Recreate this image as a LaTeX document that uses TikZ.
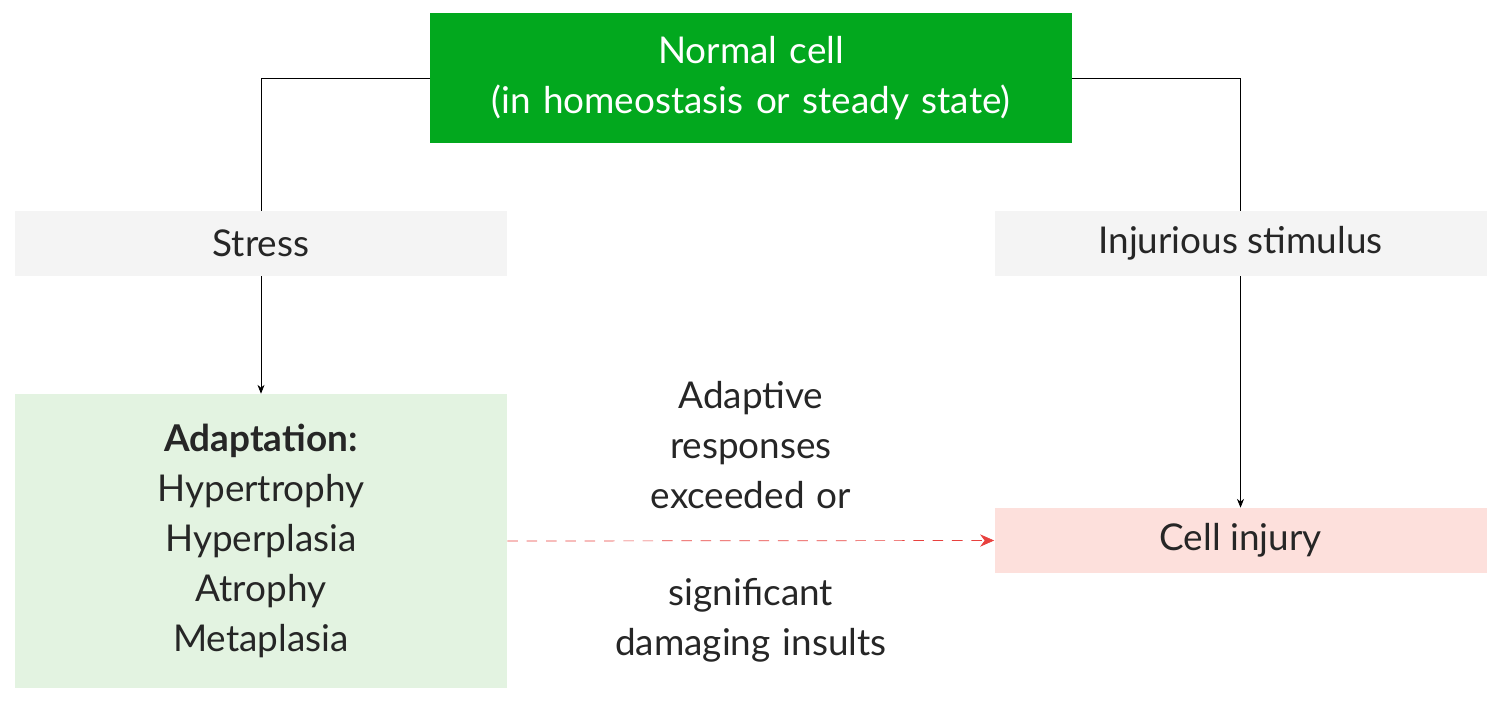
\documentclass[tikz,border=0pt]{standalone}
\usepackage{fontspec}
\setmainfont{Lato}
\usetikzlibrary{positioning,arrows.meta}
\definecolor{cellgreen}{HTML}{02A81E}
\definecolor{boxgrey}{HTML}{F4F4F4}
\definecolor{adaptgreen}{HTML}{E3F3E1}
\definecolor{injpink}{HTML}{FDE0DC}
\definecolor{dashred}{HTML}{E8413E}
\tikzstyle{cbox}=[rectangle, inner sep=0pt, text centered, text=black!85,
                  font=\fontsize{21pt}{28.4pt}\selectfont, minimum width=9.84cm]
\tikzstyle{pline}=[-, thin, black]
\tikzstyle{parrow}=[-{Stealth[length=5pt,width=4pt]}, thin, black]
\begin{document}
\begin{tikzpicture}
\useasboundingbox (0,0) rectangle (30,-14.06);

\node (NORM) [cbox, fill=cellgreen, text=white, minimum width=12.84cm, minimum height=2.6cm,
 text width=12.8cm] at (15.02,-1.56) {Normal cell\\(in homeostasis or steady state)};
\node (STR) [cbox, fill=boxgrey, minimum height=1.3cm] at (5.22,-4.87) {Stress};
\node (INJ) [cbox, fill=boxgrey, minimum height=1.3cm] at (24.81,-4.87) {Injurious stimulus};
\node (ADA) [cbox, fill=adaptgreen, minimum height=5.88cm, text width=9.8cm] at (5.22,-10.82)
 {\textbf{Adaptation:}\\Hypertrophy\\Hyperplasia\\Atrophy\\Metaplasia};
\node (CINJ) [cbox, fill=injpink, minimum height=1.3cm] at (24.81,-10.81) {Cell injury};
\node (EXC) [cbox, minimum width=0pt, text width=8cm] at (15.02,-8.9)
 {Adaptive\\responses\\exceeded or};
\node (INS) [cbox, minimum width=0pt, text width=8cm] at (15.02,-12.4)
 {significant\\damaging insults};

\draw[pline] (NORM.west) -| (STR.north);
\draw[pline] (NORM.east) -| (INJ.north);
\draw[parrow] (STR) -- (ADA);
\draw[parrow] (INJ) -- (CINJ);
\draw[-{Stealth[length=8pt,width=7pt]}, dashred, thin, dash pattern=on 6pt off 5pt]
 (ADA.east) -- (CINJ.west);

\end{tikzpicture}
\end{document}
